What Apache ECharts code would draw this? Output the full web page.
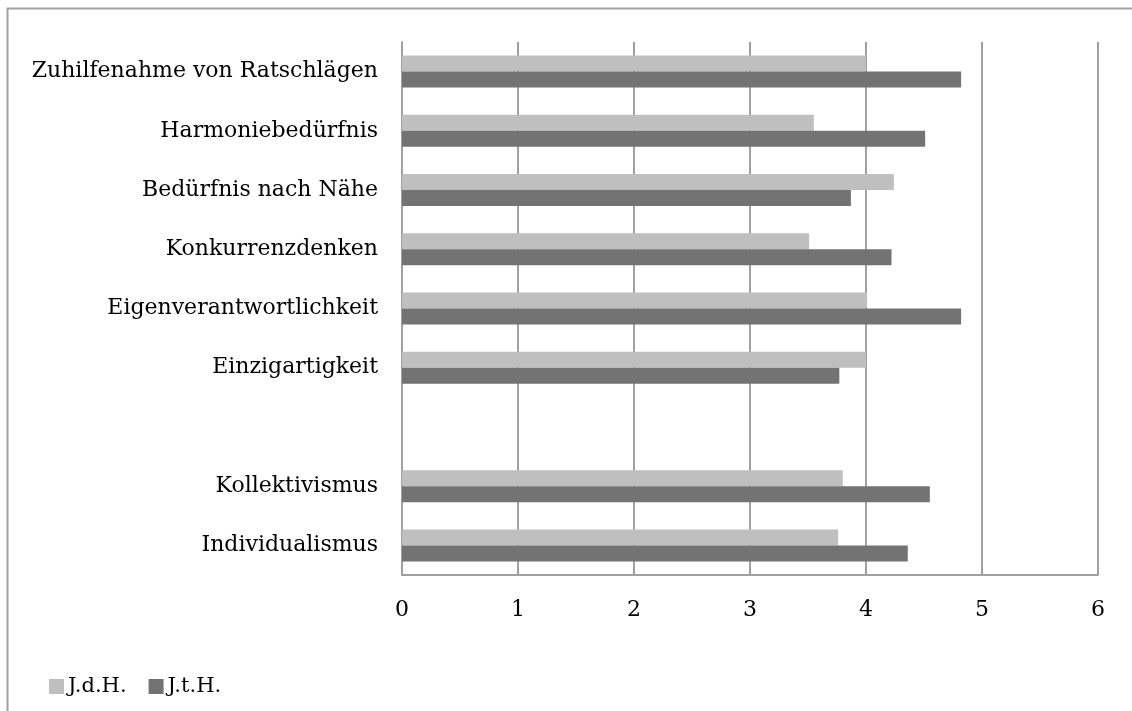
<!DOCTYPE html>
<html><head><meta charset="utf-8">
<script src="https://cdn.jsdelivr.net/npm/echarts@6/dist/echarts.min.js"></script>
<style>html,body{margin:0;padding:0;background:#fff}#c{width:1132px;height:711px}</style>
</head><body><div id="c"></div>
<script>
const categories = ['Zuhilfenahme von Ratschlägen','Harmoniebedürfnis','Bedürfnis nach Nähe','Konkurrenzdenken','Eigenverantwortlichkeit','Einzigartigkeit','','Kollektivismus','Individualismus'];
const seriesNames = ['J.d.H.','J.t.H.'];
const jdh = [4.00, 3.55, 4.24, 3.51, 4.01, 4.00, null, 3.80, 3.76];
const jth = [4.82, 4.51, 3.87, 4.22, 4.82, 3.77, null, 4.55, 4.36];
const xTicks = [0,1,2,3,4,5,6];

const FONT = 'DejaVu Serif';
const chart = echarts.init(document.getElementById('c'), null, {renderer:'canvas'});
chart.setOption({
  animation:false,
  backgroundColor:'#fff',
  graphic:[{type:'rect', shape:{x:7.5,y:8.5,width:1300,height:900}, style:{fill:'none',stroke:'#a0a0a0',lineWidth:2}, silent:true, z:-1}],
  grid:{left:402,right:34,top:42,bottom:136,containLabel:false},
  legend:{
    left:44, top:671, itemWidth:15, itemHeight:15, itemGap:22,
    icon:'rect',
    textStyle:{fontFamily:FONT,fontSize:21,color:'#000',padding:[0,0,0,-1]},
    data:seriesNames
  },
  xAxis:{
    type:'value', min:xTicks[0], max:xTicks[xTicks.length-1], interval:1,
    axisLine:{show:true,lineStyle:{color:'#a0a0a0',width:2}},
    axisTick:{show:false},
    axisLabel:{fontFamily:FONT,fontSize:22,color:'#000',margin:24},
    splitLine:{show:true,lineStyle:{color:'#a0a0a0',width:2}}
  },
  yAxis:{
    type:'category', inverse:true, data:categories,
    axisLine:{show:true,lineStyle:{color:'#a0a0a0',width:2}},
    axisTick:{show:false},
    axisLabel:{fontFamily:FONT,fontSize:22,color:'#000',margin:24}
  },
  series:[
    {name:seriesNames[0], type:'bar', data:jdh, barGap:'0%', barCategoryGap:'46%',
     itemStyle:{color:'#bfbfbf'}},
    {name:seriesNames[1], type:'bar', data:jth, barGap:'0%', barCategoryGap:'46%',
     itemStyle:{color:'#737373'}}
  ]
});
</script></body></html>
